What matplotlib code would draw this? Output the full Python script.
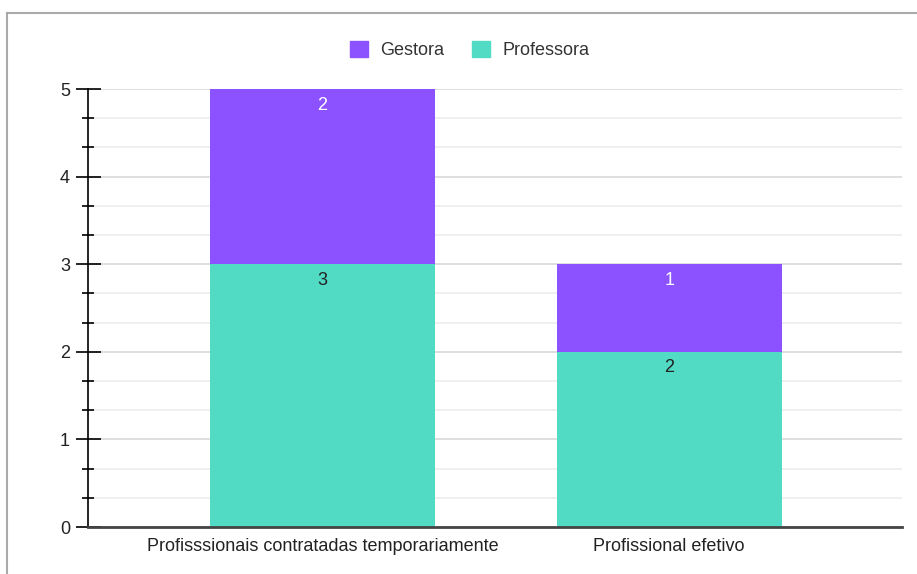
import matplotlib.pyplot as plt
from matplotlib.ticker import MultipleLocator
from matplotlib.lines import Line2D

plt.rcParams['font.family'] = ['Liberation Sans', 'DejaVu Sans']

# data
categories = ['Profisssionais contratadas temporariamente', 'Profissional efetivo']
professora = [3, 2]
gestora = [2, 1]

purple = '#8c52ff'
teal = '#52dbc4'

fig = plt.figure(figsize=(9.17, 5.74), dpi=100)
ax = fig.add_axes([88 / 917, 47 / 574, 814 / 917, 438 / 574])

x = list(range(len(categories)))
w = 0.649
b1 = ax.bar(x, professora, width=w, color=teal, zorder=3)
b2 = ax.bar(x, gestora, width=w, bottom=professora, color=purple, zorder=3)

# value labels near the top of each segment
for i in x:
    ax.annotate(str(professora[i]), (i, professora[i]), xytext=(0, -16),
                textcoords='offset pixels', ha='center', va='center',
                fontsize=13, color='#222222', zorder=4)
    ax.annotate(str(gestora[i]), (i, professora[i] + gestora[i]), xytext=(0, -16),
                textcoords='offset pixels', ha='center', va='center',
                fontsize=13, color='white', zorder=4)

ax.set_xlim(-0.677, 1.672)
ax.set_ylim(0, 5)
ax.set_xticks(x)
ax.set_xticklabels(categories, fontsize=13, color='#222222')
ax.tick_params(axis='x', length=0, pad=8)

ax.yaxis.set_major_locator(MultipleLocator(1))
ax.yaxis.set_minor_locator(MultipleLocator(1 / 3))
ax.tick_params(axis='y', which='major', direction='inout', length=18, width=1.2,
               labelsize=13, labelcolor='#222222', pad=4)
ax.tick_params(axis='y', which='minor', direction='inout', length=9, width=1.2)
ax.grid(axis='y', which='major', color='#d9d9d9', linewidth=1.2, zorder=0)
ax.grid(axis='y', which='minor', color='#ececec', linewidth=1.2, zorder=0)

for s in ['top', 'right']:
    ax.spines[s].set_visible(False)
ax.spines['left'].set_linewidth(1.2)
ax.spines['bottom'].set_color('#444444')
ax.spines['bottom'].set_linewidth(2)
ax.spines['bottom'].set_zorder(5)

handles = [plt.Rectangle((0, 0), 1, 1, color=purple),
           plt.Rectangle((0, 0), 1, 1, color=teal)]
fig.legend(handles, ['Gestora', 'Professora'], loc='center', bbox_to_anchor=(0.512, 1 - 50 / 574),
           ncol=2, frameon=False, fontsize=13, handlelength=1.0, handleheight=1.0,
           columnspacing=1.5, handletextpad=0.7, labelcolor='#333333')

# outer gray frame (top and left edges)
fig.add_artist(Line2D([7 / 917, 1], [1 - 13 / 574, 1 - 13 / 574], color='#aaaaaa', linewidth=1.5))
fig.add_artist(Line2D([7 / 917, 7 / 917], [0, 1 - 13 / 574], color='#aaaaaa', linewidth=1.5))

fig.savefig('out.png', dpi=100)
